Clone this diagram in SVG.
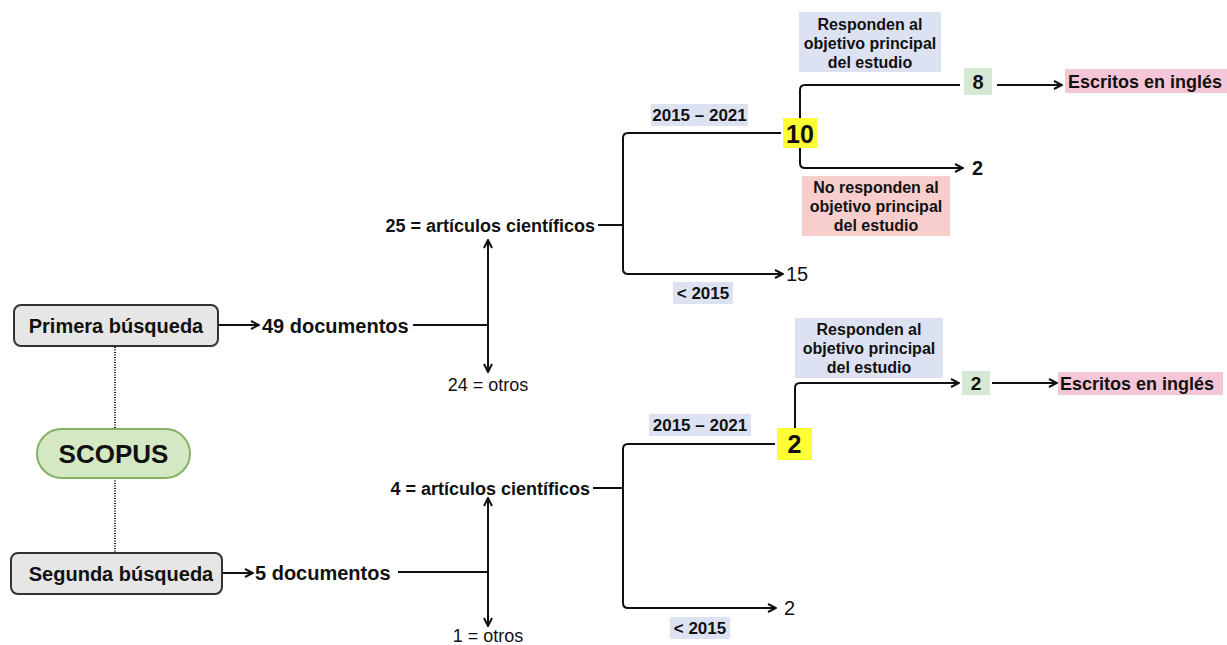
<svg xmlns="http://www.w3.org/2000/svg" width="1227" height="645" viewBox="0 0 1227 645">
<style>
text{font-family:"Liberation Sans",Arial,sans-serif;fill:#111}
.b{font-weight:bold}
.l{font-size:16px;font-weight:bold;text-anchor:middle}
.y{font-size:17px;font-weight:bold;text-anchor:middle}
.c{fill:none;stroke:#111;stroke-width:2}
.dot{fill:none;stroke:#222;stroke-width:2;stroke-dasharray:1 1.5}
</style>
<defs>
<marker id="ah" viewBox="0 0 10 10" refX="9" refY="5" markerWidth="10" markerHeight="10" markerUnits="userSpaceOnUse" orient="auto-start-reverse">
<path d="M1,1 L9,5 L1,9" fill="none" stroke="#111" stroke-width="2"/>
</marker>
</defs>
<rect width="1227" height="645" fill="#fff"/>
<g id="connectors">
<path class="dot" d="M115,347 V429 M115,478 V552"/>
<path class="c" d="M219,325 H259" marker-end="url(#ah)"/>
<path class="c" d="M413,325 H488"/>
<path class="c" d="M488,240 V372" marker-start="url(#ah)" marker-end="url(#ah)"/>
<path class="c" d="M598,225 H623"/>
<path class="c" d="M781,133 H628 Q623,133 623,138 V269 Q623,274 628,274 H783" marker-end="url(#ah)"/>
<path class="c" d="M960,85 H805 Q800,85 800,90 V163 Q800,168 805,168 H963" marker-end="url(#ah)"/>
<path class="c" d="M997,85 H1062" marker-end="url(#ah)"/>
<path class="c" d="M223,573 H253" marker-end="url(#ah)"/>
<path class="c" d="M398,572 H488"/>
<path class="c" d="M488,498 V626" marker-start="url(#ah)" marker-end="url(#ah)"/>
<path class="c" d="M593,488 H623"/>
<path class="c" d="M775,444 H628 Q623,444 623,449 V603 Q623,608 628,608 H776" marker-end="url(#ah)"/>
<path class="c" d="M795,428 V388 Q795,383 800,383 H959" marker-end="url(#ah)"/>
<path class="c" d="M992,383 H1057" marker-end="url(#ah)"/>
</g>
<g id="primera">
<rect x="14" y="305" width="204" height="41" rx="7" fill="#e6e6e6" stroke="#333" stroke-width="2"/>
<text x="116" y="333" class="b" font-size="20" text-anchor="middle">Primera búsqueda</text>
</g>
<g id="segunda">
<rect x="11" y="553" width="211" height="41" rx="7" fill="#e6e6e6" stroke="#333" stroke-width="2"/>
<text x="121" y="581" class="b" font-size="20" text-anchor="middle">Segunda búsqueda</text>
</g>
<g id="scopus">
<rect x="37" y="429" width="153" height="49" rx="24.5" fill="#d5e8c4" stroke="#82b366" stroke-width="2"/>
<text x="113.5" y="463" class="b" font-size="26" text-anchor="middle">SCOPUS</text>
</g>
<g id="doc49"><text x="262" y="333" class="b" font-size="20">49 documentos</text></g>
<g id="doc5"><text x="255" y="580" class="b" font-size="20">5 documentos</text></g>
<g id="art25"><text x="595" y="232" class="b" font-size="18" text-anchor="end">25 = artículos científicos</text></g>
<g id="art4"><text x="590" y="495" class="b" font-size="18" text-anchor="end">4 = artículos científicos</text></g>
<g id="otros24"><text x="488" y="391" font-size="18" text-anchor="middle">24 = otros</text></g>
<g id="otros1"><text x="488" y="642" font-size="18" text-anchor="middle">1 = otros</text></g>
<g id="lbl1">
<rect x="651" y="104" width="97" height="22" fill="#dde2f3"/>
<text x="699.5" y="121" class="y">2015 – 2021</text>
</g>
<g id="lbl2">
<rect x="673" y="282" width="60" height="22" fill="#dde2f3"/>
<text x="703" y="299" class="y">&lt; 2015</text>
</g>
<g id="lbl3">
<rect x="649" y="414" width="102" height="22" fill="#dde2f3"/>
<text x="700" y="431" class="y">2015 – 2021</text>
</g>
<g id="lbl4">
<rect x="670" y="617" width="60" height="22" fill="#dde2f3"/>
<text x="700" y="634" class="y">&lt; 2015</text>
</g>
<g id="n15"><text x="786" y="281" font-size="20">15</text></g>
<g id="n2b"><text x="784" y="615" font-size="20">2</text></g>
<g id="n10">
<rect x="783" y="118" width="34" height="30" fill="#ffff33"/>
<text x="800" y="143" class="b" font-size="25" text-anchor="middle">10</text>
</g>
<g id="n2y">
<rect x="777" y="428" width="35" height="32" fill="#ffff33"/>
<text x="794.5" y="453" class="b" font-size="25" text-anchor="middle">2</text>
</g>
<g id="resp1">
<rect x="799" y="12" width="142" height="60" fill="#dde2f3"/>
<text class="l"><tspan x="870" y="30">Responden al</tspan><tspan x="870" y="49">objetivo principal</tspan><tspan x="870" y="68">del estudio</tspan></text>
</g>
<g id="noresp">
<rect x="802" y="176" width="148" height="60" fill="#f8cecc"/>
<text class="l"><tspan x="876" y="193">No responden al</tspan><tspan x="876" y="212">objetivo principal</tspan><tspan x="876" y="231">del estudio</tspan></text>
</g>
<g id="resp2">
<rect x="795" y="318" width="148" height="60" fill="#dde2f3"/>
<text class="l"><tspan x="869" y="335">Responden al</tspan><tspan x="869" y="354">objetivo principal</tspan><tspan x="869" y="373">del estudio</tspan></text>
</g>
<g id="n8">
<rect x="964" y="68" width="28" height="27" fill="#d5e8d4"/>
<text x="978" y="89" class="b" font-size="20" text-anchor="middle">8</text>
</g>
<g id="n2r"><text x="972" y="175" class="b" font-size="20">2</text></g>
<g id="n2g">
<rect x="962" y="371" width="28" height="24" fill="#d5e8d4"/>
<text x="976" y="390" class="b" font-size="19" text-anchor="middle">2</text>
</g>
<g id="esc1">
<rect x="1065" y="69" width="162" height="24" fill="#f5c6d8"/>
<text x="1068" y="88" class="b" font-size="18">Escritos en inglés</text>
</g>
<g id="esc2">
<rect x="1058" y="372" width="165" height="23" fill="#f5c6d8"/>
<text x="1060" y="390" class="b" font-size="18">Escritos en inglés</text>
</g>
</svg>
